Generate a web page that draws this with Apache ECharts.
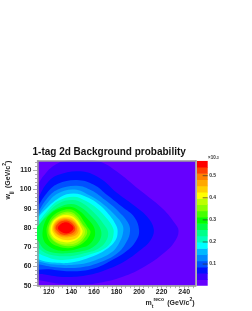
<!DOCTYPE html>
<html><head><meta charset="utf-8">
<style>html,body{margin:0;padding:0;background:#fff}#c{width:252px;height:311px;filter:blur(0.35px)}</style>
<script src="https://cdn.jsdelivr.net/npm/echarts@6/dist/echarts.min.js"></script></head>
<body><div id="c"></div>
<script>
const xTicks=[120,140,160,180,200,220,240];
const yTicks=[50,60,70,80,90,100,110];
const xMinor=[112,116,124,128,132,136,144,148,152,156,164,168,172,176,184,188,192,196,204,208,212,216,224,228,232,236,244,248];
const yMinor=[52,54,56,58,62,64,66,68,72,74,76,78,82,84,86,88,92,94,96,98,102,104,106,108,112,114];
const barTicks=[0.1,0.2,0.3,0.4,0.5];
const bandColors=['#6600ff','#3a00ff','#0010ff','#0050ff','#0088ff','#00b8ff','#00ffff','#00ffbb','#00ff88','#00ff44','#00ff00','#44ff00','#88ff00','#bbff00','#ffff00','#ffd000','#ffa800','#ff8000','#ff4000','#ff0000'];
const bandEdges=[0.002,0.030,0.059,0.087,0.115,0.143,0.172,0.200,0.228,0.257,0.285,0.313,0.341,0.370,0.398,0.426,0.455,0.483,0.511,0.540,0.568];
const c1=[[105,98],[110,102.5],[118,109],[126,113],[135,115],[150,115.3],[165,114.6],[180,109.5],[200,100],[220,90.5],[231,83],[235,78.5],[231,72.5],[222,67],[205,60],[185,54.5],[165,51.5],[150,50.5],[130,51],[110,53],[105,53]];
const c2=[[105,91],[110,95],[118,103],[128,107.5],[148,109.5],[165,106],[180,98.5],[195,92],[207,86],[213,79.5],[210,73.5],[200,68],[188,63],[172,58.5],[155,55.5],[135,54.5],[115,56],[105,57]];
const c3=[[105,87],[110,91],[118,98],[128,103],[145,105],[160,102.5],[172,97],[185,91],[196,85.5],[200,79],[198,74],[191,69],[175,63],[160,59],[140,57.5],[120,58.5],[105,60]];
const c4=[[105,85],[110,88],[118,95],[128,100],[145,102],[158,99.5],[170,94.5],[182,88.5],[190,83],[192,78.5],[189,73],[181,67],[165,62],[148,59.5],[128,59.5],[112,61],[105,62.5]];
const c5=[[105,82],[110,86],[118,92.5],[128,98],[143,100],[156,97],[168,92.5],[179,86.5],[185,82],[186,78.5],[183,73],[176,67.5],[160,63],[145,61],[125,61],[112,62.5],[105,64]];
const c6=[[105,80],[110,85],[115,88.5],[130,96],[142,98],[154,96],[165,92],[174,86.5],[179.5,81.5],[181,78],[179,73.5],[170,68.5],[158,65],[140,62],[125,62],[112,63.5],[105,67]];
const c7=[[105,78.5],[110,82.5],[118,88.5],[128,94],[142,96.3],[153,94],[163,90],[172,84.5],[176.5,80.5],[177.5,77.5],[175,72.5],[167,68.5],[155,66],[142,64],[128,63.5],[116,65.5],[108,68],[105,71]];
const c8=[[105,78],[111,81.5],[118,87],[128,92.5],[141,94.5],[151,92.5],[160,88],[168,82.5],[172.5,78],[170.5,73],[163,69],[152,67],[140,65.5],[128,65.5],[117,67],[109,71],[105,75]];
const c9=[[108,79],[112.5,82.5],[118,86],[128,90.5],[140,92.5],[149,90.5],[157,86.5],[163,82.5],[166.5,78],[165,73.5],[159,70],[150,68],[138,67],[126,67],[116,69],[111,73],[108,76]];
const c10=[[114.5,78],[116.5,83],[121,87],[129,90],[139,91],[147,89],[154,85],[159,81.5],[161,78],[160,74.5],[155,71],[147,69.5],[138,68.3],[127,68.5],[118,71.5],[115,74.5]];
const c11=[[118,78],[119.5,82.5],[124,86.5],[131,89],[139,89.7],[146,87.5],[151,83.5],[155,80],[157,78],[155,75],[151,72.5],[145,70.5],[137,69.5],[128,70.5],[121,73]];
const c12=[[119.5,78],[121,82.5],[126,86],[133,88.2],[140,88.3],[145,86.2],[150,82],[154,78.5],[152,75],[147,72],[140,70.7],[132,70.9],[125,72.8],[121,75.5]];
const c13=[[120.5,78.5],[122,82.5],[127,85.6],[134,87.4],[140,87.3],[145,85],[149,81.8],[152,78.5],[150,75],[145,72.5],[138,71.5],[130,72],[124,74]];
const c14=[[121.5,79],[123,82.5],[127.5,85.3],[134,86.7],[140,86.3],[145,84],[148.5,80.5],[150,78],[147,75],[140,72.8],[132,72.8],[126,74.3],[122.5,76.5]];
const c15=[[123,79.5],[124.5,82.5],[129,84.8],[135,85.6],[141,85],[145,82.5],[148,79],[146.5,76],[141,74],[133,73.9],[127,75.4],[124,77.5]];
const c16=[[124,80],[126,82.8],[130.5,84.5],[136,85],[141,84],[145,81.5],[146.5,79],[144.5,76.5],[139,75.3],[132,75.2],[127.5,76.5],[125,78]];
const c17=[[125,80],[127,82.7],[131,84.2],[137,84.4],[142,83],[145,80],[143,77],[137.5,75.9],[132,76],[127.5,77.2]];
const c18=[[126,80],[128.5,82.6],[133,83.8],[139,83.2],[143.5,80],[141.5,77.6],[136,76.5],[131,76.8],[128,78.2]];
const c19=[[128,80],[131,82.2],[135.5,83],[139.5,82],[142,80],[139.5,78],[135.5,77.2],[131,78]];
const contours=[c1,c2,c3,c4,c5,c6,c7,c8,c9,c10,c11,c12,c13,c14,c15,c16,c17,c18,c19];

const FONT='"Liberation Sans"';
const GR='#9a9a9a';
const chart=echarts.init(document.getElementById('c'),null,{renderer:'canvas'});
const series=[{type:'custom',xAxisIndex:0,yAxisIndex:0,clip:true,z:2,silent:true,data:[[0]],
  renderItem:(p,api)=>{const cs=p.coordSys;return{type:'rect',shape:{x:cs.x,y:cs.y,width:cs.width,height:cs.height},style:{fill:bandColors[0]}};}}];
contours.forEach((pts,i)=>series.push({type:'custom',xAxisIndex:0,yAxisIndex:0,clip:true,z:3+i,silent:true,data:[[i]],
  renderItem:(p,api)=>({type:'polygon',shape:{points:pts.map(q=>api.coord(q)),smooth:0.4},style:{fill:bandColors[i+1]}})}));
series.push({type:'custom',xAxisIndex:3,yAxisIndex:3,clip:true,z:2,silent:true,
  data:bandColors.map((_,i)=>[bandEdges[i],bandEdges[i+1],i]),
  renderItem:(p,api)=>{const cs=p.coordSys;const a=api.coord([0,api.value(0)]),b=api.coord([0,api.value(1)]);
    return{type:'rect',shape:{x:cs.x,y:b[1],width:cs.width,height:a[1]-b[1]+0.5},style:{fill:bandColors[api.value(2)]}};}});
series.push({type:'custom',xAxisIndex:3,yAxisIndex:3,clip:true,z:5,silent:true,
  data:barTicks.map(v=>[v]),
  renderItem:(p,api)=>{const cs=p.coordSys;const a=api.coord([0,api.value(0)]);const r=cs.x+cs.width;
    return{type:'line',shape:{x1:r-5,y1:a[1],x2:r,y2:a[1]},style:{stroke:'#333',lineWidth:0.7}};}});
const frameLine={show:true,lineStyle:{color:GR,width:1.5}};
const rt={fontFamily:FONT,fontWeight:'bold',color:'#222'};
chart.setOption({animation:false,
 title:{text:'1-tag 2d Background probability',left:27.5,top:142.5,textStyle:{fontFamily:FONT,fontWeight:'bold',fontSize:10,color:'#111'}},
 grid:[{left:37.5,top:160.7,width:158,height:125},{left:197,top:160.7,width:10.7,height:125}],
 xAxis:[
  {type:'value',gridIndex:0,min:110,max:250,position:'bottom',z:10,splitLine:{show:false},axisLine:frameLine,
   axisTick:{show:true,length:4.5,customValues:xTicks,lineStyle:{color:GR,width:0.8}},
   axisLabel:{customValues:xTicks,margin:2.5,fontFamily:FONT,fontSize:7,fontWeight:'bold',color:'#222',formatter:v=>String(v)},
   name:'{a|m}{s|t}{u|reco} {a|(GeV/c}{u|2}{a|)}',nameLocation:'end',nameGap:-50,
   nameTextStyle:{align:'left',verticalAlign:'top',padding:[11,0,0,0],rich:{a:{...rt,fontSize:7},s:{...rt,fontSize:5,verticalAlign:'bottom',padding:[4,0,0,0]},u:{...rt,fontSize:5,verticalAlign:'top',padding:[0,0,3,0]}}}},
  {type:'value',gridIndex:0,min:110,max:250,position:'bottom',z:9,splitLine:{show:false},axisLine:{show:false},axisLabel:{show:false},
   axisTick:{show:true,length:2.5,customValues:xMinor,lineStyle:{color:GR,width:0.8}}},
  {type:'value',gridIndex:0,min:110,max:250,position:'top',z:10,splitLine:{show:false},axisLine:frameLine,axisLabel:{show:false},axisTick:{show:false}},
  {type:'value',gridIndex:1,min:0,max:1,show:false}
 ],
 yAxis:[
  {type:'value',gridIndex:0,min:50,max:115,position:'left',z:10,splitLine:{show:false},axisLine:frameLine,
   axisTick:{show:true,length:4.5,customValues:yTicks,lineStyle:{color:GR,width:0.8}},
   axisLabel:{customValues:yTicks,margin:6,fontFamily:FONT,fontSize:7,fontWeight:'bold',color:'#222',formatter:v=>String(v)},
   name:'{a|w}{s|jj} {a|(GeV/c}{u|2}{a|)}',nameLocation:'end',nameRotate:90,nameGap:0,
   nameTextStyle:{align:'right',verticalAlign:'bottom',padding:[0,0,23.5,0],rich:{a:{...rt,fontSize:7},s:{...rt,fontSize:5,verticalAlign:'bottom',padding:[4,0,0,0]},u:{...rt,fontSize:5,verticalAlign:'top',padding:[0,0,3,0]}}}},
  {type:'value',gridIndex:0,min:50,max:115,position:'left',z:9,splitLine:{show:false},axisLine:{show:false},axisLabel:{show:false},
   axisTick:{show:true,length:2.5,customValues:yMinor,lineStyle:{color:GR,width:0.8}}},
  {type:'value',gridIndex:0,min:50,max:115,position:'right',z:10,splitLine:{show:false},axisLine:frameLine,axisLabel:{show:false},axisTick:{show:false}},
  {type:'value',gridIndex:1,min:0.002,max:0.568,position:'right',z:10,splitLine:{show:false},axisLine:{show:false},
   axisTick:{show:false},
   axisLabel:{customValues:barTicks,margin:1.5,fontFamily:FONT,fontSize:5,fontWeight:'bold',color:'#333',formatter:v=>v.toFixed(1)},
   name:'{a|×10}{u|-3}',nameLocation:'end',nameGap:0,
   nameTextStyle:{align:'left',verticalAlign:'bottom',padding:[0,0,0,11],rich:{a:{fontFamily:FONT,fontSize:4.5,fontWeight:'bold',color:'#333'},u:{fontFamily:FONT,fontSize:3.5,fontWeight:'bold',color:'#333',verticalAlign:'top'}}}}
 ],
 series
});
</script></body></html>
